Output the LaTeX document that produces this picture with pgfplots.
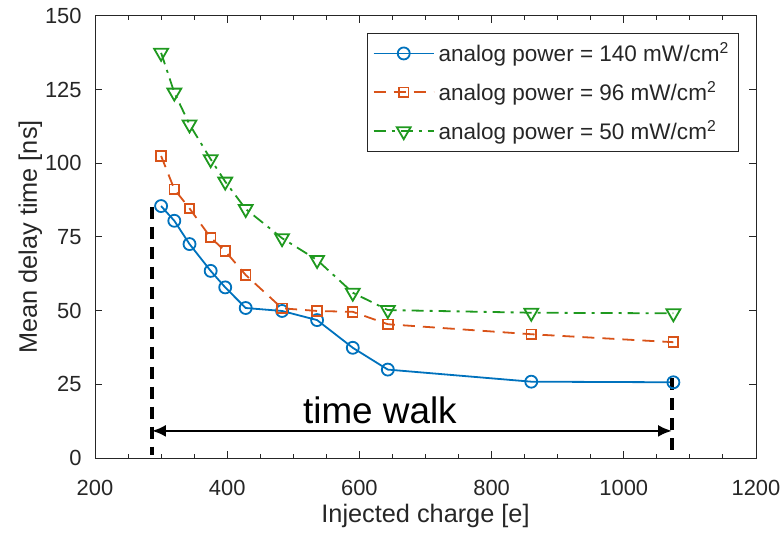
\documentclass[border=0pt]{standalone}
\usepackage{fontspec}
\setmainfont{Liberation Sans}
\usepackage{pgfplots}
\pgfplotsset{compat=1.18}
\usetikzlibrary{arrows.meta}
\definecolor{mblue}{rgb}{0,0.447,0.741}
\definecolor{morange}{rgb}{0.85,0.325,0.098}
\definecolor{mgreen}{rgb}{0.12,0.6,0.12}
\definecolor{axgray}{rgb}{0.15,0.15,0.15}
\begin{document}
\begin{tikzpicture}
\useasboundingbox (-47.5bp,-37.5bp) rectangle (343.5bp,229bp);
\begin{axis}[
  at={(0,0)}, anchor=south west,
  width=330.5bp, height=221bp, scale only axis,
  xmin=200, xmax=1200, ymin=0, ymax=150,
  xtick={200,400,...,1200}, ytick={0,25,...,150},
  minor x tick num=3,
  tick align=inside,
  major tick length=3.5bp, minor tick length=2bp,
  axis line style={axgray, line width=0.5bp},
  every tick/.style={axgray, line width=0.5bp},
  ticklabel style={font=\fontsize{11}{13}\selectfont, text=axgray},
  xticklabel style={anchor=center, inner sep=0pt, yshift=-14.75bp},
  yticklabel style={anchor=east, inner sep=0pt, xshift=-6.5bp},
  /pgf/number format/assume math mode=true,
  /pgf/number format/1000 sep={},
  xlabel={Injected charge [e]}, ylabel={Mean delay time [ns]},
  label style={font=\fontsize{12.7}{14}\selectfont, text=axgray},
  xlabel style={at={(axis description cs:0.5,-0.131)}, anchor=center},
  ylabel style={at={(axis description cs:-0.098,0.5)}, anchor=center},
  legend style={at={(0.974,0.9615)}, anchor=north east, draw=axgray,
    line width=0.5bp, font=\fontsize{11.3}{13}\selectfont, text=axgray,
    row sep=4.5bp, inner sep=2.5bp},
  legend cell align=left,
  legend image code/.code={\draw[mark repeat=2,mark phase=2,#1] plot coordinates {(0bp,0bp) (15bp,0bp) (30bp,0bp)};},
]
\addplot[mblue, line width=0.9bp, mark=o, mark size=3bp, mark options={solid}] coordinates {
  (300,85.5) (320,80.5) (343,72.6) (375,63.5) (397,57.9) (428,50.9)
  (483,49.9) (536,46.8) (590,37.4) (643,30.0) (860,25.9) (1075,25.7) };
\addlegendentry{analog power = 140 mW/cm\textsuperscript{2}}
\addplot[morange, line width=0.9bp, dash pattern=on 6bp off 4bp, mark=square, mark size=2.4bp, mark options={solid}] coordinates {
  (300,102.5) (320,91.2) (343,84.7) (375,74.8) (397,70.2) (428,62.1)
  (483,50.8) (536,49.9) (590,49.6) (643,45.4) (860,42.0) (1075,39.3) };
\addlegendentry{analog power = 96 mW/cm\textsuperscript{2}}
\addplot[mgreen, line width=0.9bp, dash pattern=on 6bp off 3bp on 1.5bp off 3bp, mark=triangle, mark size=4bp, mark options={solid, rotate=180}] coordinates {
  (300,137.5) (320,124.0) (343,113.2) (375,101.4) (397,93.8) (428,84.5)
  (483,74.6) (536,67.2) (590,56.1) (643,50.2) (860,49.3) (1075,49.1) };
\addlegendentry{analog power = 50 mW/cm\textsuperscript{2}}
% time walk annotation
\addplot[black, line width=2bp, dash pattern=on 6bp off 4bp, forget plot] coordinates {(286,85.3) (286,1)};
\addplot[black, line width=2bp, dash pattern=on 6bp off 4bp, forget plot] coordinates {(1073,27.1) (1073,1)};
\addplot[black, line width=1.3bp, {Latex[length=7bp,width=6bp]}-{Latex[length=7bp,width=6bp]}, forget plot] coordinates {(286,9.2) (1073,9.2)};
\node[font=\fontsize{18.5}{20}\selectfont] at (axis cs:631,16.3) {time walk};
\end{axis}
\end{tikzpicture}
\end{document}
